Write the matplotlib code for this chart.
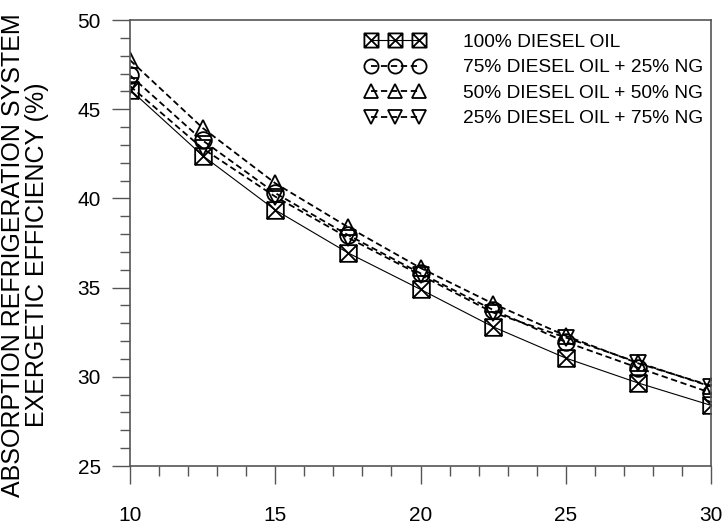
import numpy as np
import matplotlib
matplotlib.use("Agg")
import matplotlib.pyplot as plt
from matplotlib.path import Path
from matplotlib.ticker import MultipleLocator

plt.rcParams['font.family'] = ['Liberation Sans', 'DejaVu Sans']

# data
x = [10, 12.5, 15, 17.5, 20, 22.5, 25, 27.5, 30]
diesel_100 = [46.1, 42.4, 39.35, 36.95, 34.9, 32.8, 31.05, 29.65, 28.4]
diesel_75 = [46.9, 43.25, 40.3, 37.95, 35.8, 33.75, 31.95, 30.5, 29.1]
diesel_50 = [47.75, 43.95, 40.85, 38.4, 36.1, 34.1, 32.3, 30.75, 29.5]
diesel_25 = [46.3, 42.8, 40.1, 37.8, 35.7, 33.6, 32.2, 30.8, 29.45]
labels = ["100% DIESEL OIL", "75% DIESEL OIL + 25% NG",
          "50% DIESEL OIL + 50% NG", "25% DIESEL OIL + 75% NG"]

# square with a cross inside
M, L, C = Path.MOVETO, Path.LINETO, Path.CLOSEPOLY
box_x = Path([(-1, -1), (1, -1), (1, 1), (-1, 1), (-1, -1),
              (-1, -1), (1, 1), (-1, 1), (1, -1)],
             [M, L, L, L, C, M, L, M, L])

fig = plt.figure(figsize=(7.27, 5.24), dpi=100)
ax = fig.add_axes([130/727, 58/524, 581/727, 446/524])

dash = (0, (3.5, 2))
ax.plot(x, diesel_100, color='k', lw=0.8, marker=box_x, ms=12,
        mfc='none', mec='k', mew=1.3, label=labels[0])
ax.plot(x, diesel_75, color='k', lw=1.3, ls=dash, marker='o', ms=12,
        mfc='none', mec='k', mew=1.3, label=labels[1])
ax.plot(x, diesel_50, color='k', lw=1.3, ls=dash, marker='^', ms=12,
        mfc='none', mec='k', mew=1.3, label=labels[2])
ax.plot(x, diesel_25, color='k', lw=1.3, ls=dash, marker='v', ms=12,
        mfc='none', mec='k', mew=1.3, label=labels[3])

ax.set_xlim(10, 30)
ax.set_ylim(25, 50)
ax.xaxis.set_major_locator(MultipleLocator(5))
ax.xaxis.set_minor_locator(MultipleLocator(1))
ax.yaxis.set_major_locator(MultipleLocator(5))
ax.yaxis.set_minor_locator(MultipleLocator(1))
ax.tick_params(which='major', direction='out', length=13, width=1,
               color='#555555', labelsize=15)
ax.tick_params(which='minor', direction='out', length=7, width=1,
               color='#555555')
ax.tick_params(axis='x', which='major', pad=16)
ax.tick_params(axis='y', which='major', pad=8)
for s in ax.spines.values():
    s.set_color('#555555')
    s.set_linewidth(1.2)

leg = ax.legend(loc='upper right', frameon=False, fontsize=13.8, numpoints=3,
                handlelength=3.1, handletextpad=2.0, labelspacing=0.42,
                borderaxespad=0.3, bbox_to_anchor=(1.01, 1.0),
                markerscale=0.85)

fig.text(25/727, 1 - 255/524,
         "ABSORPTION REFRIGERATION SYSTEM\nEXERGETIC EFFICIENCY (%)",
         rotation=90, ha='center', va='center', fontsize=18,
         multialignment='center', linespacing=0.95)

fig.savefig("out.png", dpi=100)
